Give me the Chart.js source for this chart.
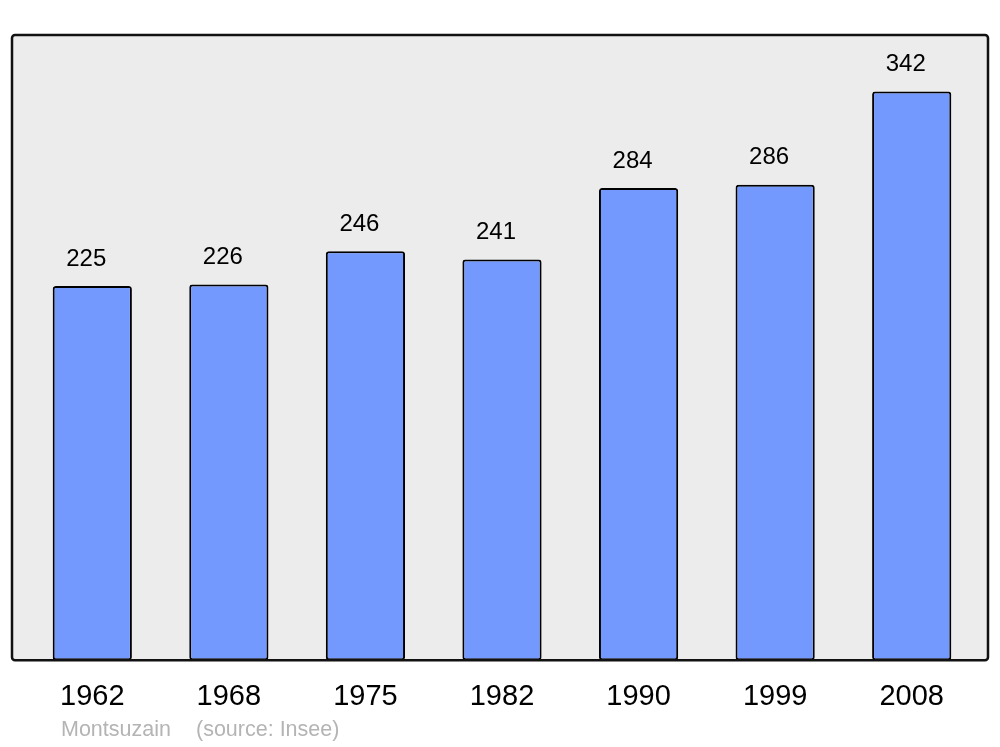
<!DOCTYPE html>
<html>
  <head>
    <title>Montsuzain population</title>
    <style>
      body {
        background-color: white;
        margin: 0;
        padding: 0;
      }
    </style>
    <script src="https://cdn.jsdelivr.net/npm/chart.js"></script>
  </head>
  <body>
    <canvas id="popChart" width="1000" height="747"></canvas>
    <script>
      const years = ["1962", "1968", "1975", "1982", "1990", "1999", "2008"];
      const population = [225, 226, 246, 241, 284, 286, 342];
      const footerText = ["Montsuzain", "(source: Insee)"];

      // grey panel behind the bars
      const panelPlugin = {
        id: "panel",
        beforeDraw(chart) {
          const { ctx, chartArea } = chart;
          const x = chartArea.left - 12;
          const y = chartArea.top;
          const w = chartArea.right - chartArea.left + 20;
          const h = chartArea.bottom - chartArea.top;
          ctx.save();
          ctx.beginPath();
          ctx.roundRect(x, y, w, h, 3);
          ctx.fillStyle = "#ececec";
          ctx.fill();
          ctx.restore();
        },
        afterDatasetsDraw(chart) {
          const { ctx, chartArea } = chart;
          const x = chartArea.left - 12;
          const y = chartArea.top;
          const w = chartArea.right - chartArea.left + 20;
          const h = chartArea.bottom - chartArea.top;
          ctx.save();
          ctx.beginPath();
          ctx.roundRect(x, y, w, h, 3);
          ctx.lineWidth = 2.5;
          ctx.strokeStyle = "#111";
          ctx.stroke();

          // value labels above each bar
          ctx.font = "24px 'Liberation Sans', Arial, sans-serif";
          ctx.fillStyle = "#000";
          ctx.textAlign = "center";
          ctx.textBaseline = "middle";
          chart.getDatasetMeta(0).data.forEach((bar, i) => {
            ctx.fillText(String(population[i]), bar.x - 6, bar.y - 27);
          });

          // footer
          ctx.font = "21.5px 'Liberation Sans', Arial, sans-serif";
          ctx.fillStyle = "#b4b4b4";
          ctx.textAlign = "left";
          ctx.fillText(footerText[0], 61, 730);
          ctx.fillText(footerText[1], 196, 730);
          ctx.restore();
        }
      };

      const ctx = document.getElementById("popChart");
      new Chart(ctx, {
        type: "bar",
        data: {
          labels: years,
          datasets: [
            {
              data: population,
              backgroundColor: "#7399ff",
              borderColor: "#000",
              borderWidth: 2,
              borderRadius: 3,
              borderSkipped: false,
              barPercentage: 1,
              categoryPercentage: 0.58
            }
          ]
        },
        options: {
          responsive: false,
          animation: false,
          layout: {
            padding: { left: 24, right: 20, top: 35, bottom: 14 }
          },
          plugins: {
            legend: { display: false },
            tooltip: { enabled: false }
          },
          scales: {
            x: {
              grid: { display: false, drawTicks: false },
              border: { display: false },
              ticks: {
                padding: 19,
                color: "#000",
                font: { family: "'Liberation Sans', Arial, sans-serif", size: 29 }
              }
            },
            y: {
              display: false,
              min: 0,
              max: 376
            }
          }
        },
        plugins: [panelPlugin]
      });
    </script>
  </body>
</html>
